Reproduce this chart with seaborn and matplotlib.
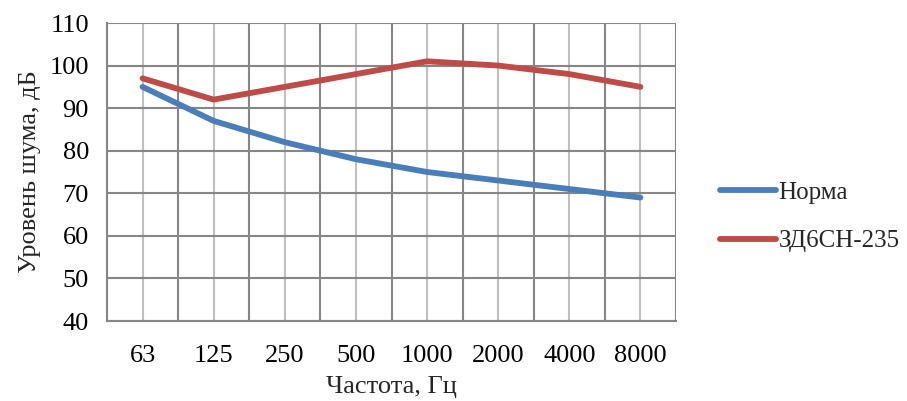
import numpy as np
import pandas as pd
import matplotlib
matplotlib.use("Agg")
import matplotlib.pyplot as plt
import seaborn as sns

categories = ["63", "125", "250", "500", "1000", "2000", "4000", "8000"]
norma = [95, 87, 82, 78, 75, 73, 71, 69]
zd6 = [97, 92, 95, 98, 101, 100, 98, 95]
series_names = ["Норма", "ЗД6СН-235"]

sns.set_theme(style="white")
plt.rcParams['font.family'] = ['Liberation Serif', 'DejaVu Serif']

pos = np.arange(len(categories))
df = pd.DataFrame({
    "pos": np.concatenate([pos, pos]),
    "val": norma + zd6,
    "series": [series_names[0]] * len(pos) + [series_names[1]] * len(pos),
})

FS = 19

fig = plt.figure(figsize=(9.07, 4.01), dpi=100)
ax = fig.add_axes([107 / 907, 1 - 321 / 401, (676 - 107) / 907, (321 - 23) / 401])

sns.lineplot(data=df, x="pos", y="val", hue="series",
             palette=["#4A7EBB", "#BE4B48"], linewidth=4.2, ax=ax,
             legend=True, solid_capstyle="round")

ax.set_xlim(-0.5, len(categories) - 0.5)
ax.set_ylim(40, 110)
ax.set_yticks(np.arange(40, 111, 10))
ax.set_xticks(pos)
ax.set_xticklabels(categories)
ax.set_xticks(np.arange(-0.5, len(categories), 1), minor=True)

ax.grid(False)
for p in pos:
    ax.axvline(p, color="#BFBFBF", linewidth=1.5, zorder=0)
for b in np.arange(-0.5, len(categories), 1):
    ax.axvline(b, color="#868686", linewidth=1.5, zorder=0)
for y in np.arange(40, 111, 10):
    ax.axhline(y, color="#868686", linewidth=1.5, zorder=0)

for s in ["top", "right"]:
    ax.spines[s].set_visible(False)
for s in ["left", "bottom"]:
    ax.spines[s].set_color("#868686")
    ax.spines[s].set_linewidth(1.5)

ax.tick_params(axis="x", which="major", length=0, labelsize=FS, pad=17, colors="black")
ax.tick_params(axis="x", which="minor", length=8, width=1.5, color="#868686", direction="out")
ax.tick_params(axis="y", which="major", length=7, width=1.5, color="#868686", direction="out",
               labelsize=FS, pad=6, labelcolor="black")

ax.set_xlabel("Частота, Гц", fontsize=FS, labelpad=7)
ax.set_ylabel("Уровень шума, дБ", fontsize=FS, labelpad=6)

leg = ax.legend(loc="center left", bbox_to_anchor=(1.06, 0.35), frameon=False,
                fontsize=18, handlelength=2.25, handletextpad=0.08, labelspacing=1.05,
                borderaxespad=0.0)
for h in leg.get_lines():
    h.set_linewidth(4.2)
    h.set_solid_capstyle("round")

fig.savefig("out.png", dpi=100)
